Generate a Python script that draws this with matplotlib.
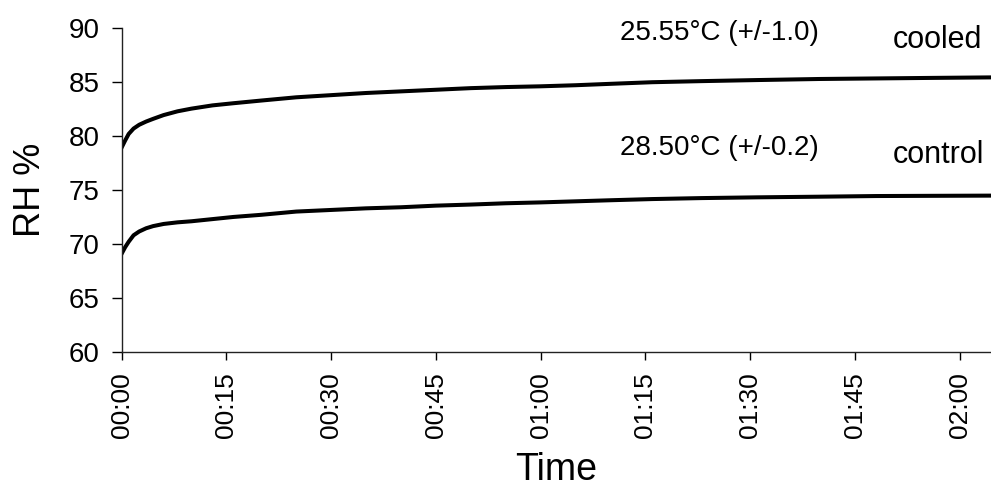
import matplotlib
matplotlib.use("Agg")
import matplotlib.pyplot as plt

plt.rcParams['font.family'] = ['Liberation Sans', 'DejaVu Sans']

# minutes since start
minutes = [0, 0.5, 1, 1.7, 2.5, 3.5, 4.5, 6, 8, 10, 13, 16, 20, 25, 30, 35, 40,
           45, 50, 55, 60, 65, 70, 76, 83, 91, 100, 108, 116, 125]
cooled = [78.95, 79.6, 80.2, 80.7, 81.05, 81.35, 81.6, 81.95, 82.3, 82.55, 82.85,
          83.05, 83.3, 83.6, 83.8, 84.0, 84.15, 84.3, 84.45, 84.55, 84.62, 84.72,
          84.85, 85.0, 85.1, 85.2, 85.3, 85.35, 85.4, 85.45]
control = [69.1, 69.7, 70.2, 70.8, 71.15, 71.45, 71.65, 71.85, 72.0, 72.1, 72.3,
           72.5, 72.7, 73.0, 73.15, 73.3, 73.4, 73.55, 73.65, 73.77, 73.85, 73.95,
           74.05, 74.16, 74.25, 74.32, 74.38, 74.44, 74.46, 74.48]

tick_minutes = [0, 15, 30, 45, 60, 75, 90, 105, 120]
tick_labels = ["00:00", "00:15", "00:30", "00:45", "01:00", "01:15", "01:30", "01:45", "02:00"]

fig = plt.figure(figsize=(9.91, 4.95), dpi=100)
ax = fig.add_axes([0.1228, 0.2895, 0.8772, 0.6533])

ax.plot(minutes, cooled, color='black', lw=2.9)
ax.plot(minutes, control, color='black', lw=2.9)

ax.set_xlim(0, 124.5)
ax.set_ylim(60, 90)
ax.set_yticks([60, 65, 70, 75, 80, 85, 90])
ax.set_xticks(tick_minutes)
ax.set_xticklabels(tick_labels, rotation=90)

for s in ['top', 'right']:
    ax.spines[s].set_visible(False)
for s in ['left', 'bottom']:
    ax.spines[s].set_linewidth(1.0)
    ax.spines[s].set_color('#222222')

ax.tick_params(axis='y', length=7, width=1, pad=9, labelsize=20)
ax.tick_params(axis='x', length=6, width=1, pad=9, labelsize=19)

ax.set_ylabel("RH %", fontsize=26)
ax.yaxis.set_label_coords(-0.085, 0.5)
ax.set_xlabel("Time", fontsize=27)
ax.xaxis.set_label_coords(0.5, -0.31)

ax.text(71.4, 89.6, "25.55°C (+/-1.0)", fontsize=20, va='center', ha='left')
ax.text(110.5, 88.9, "cooled", fontsize=22, va='center', ha='left')
ax.text(71.4, 78.9, "28.50°C (+/-0.2)", fontsize=20, va='center', ha='left')
ax.text(110.5, 78.25, "control", fontsize=22, va='center', ha='left')

plt.savefig('out.png', dpi=100)
